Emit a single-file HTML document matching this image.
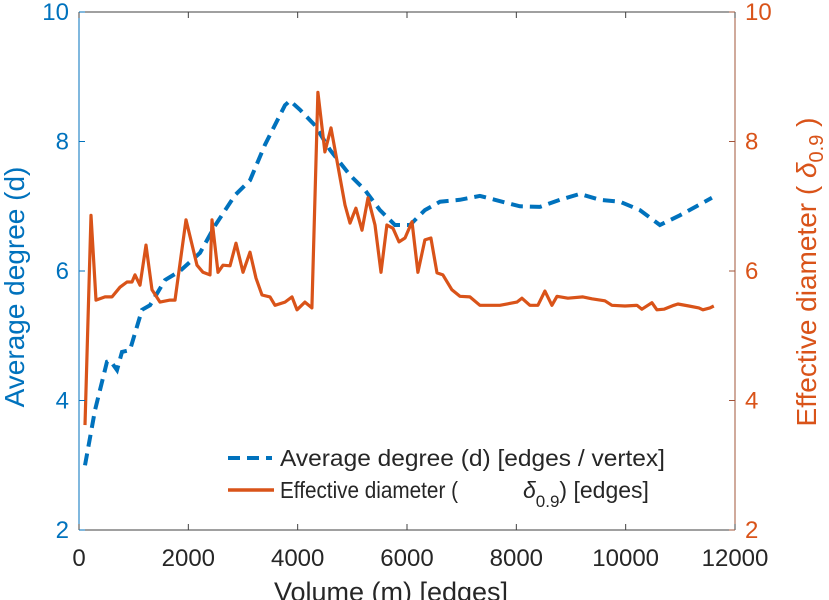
<!DOCTYPE html>
<html><head><meta charset="utf-8"><style>
html,body{margin:0;padding:0;background:#fff;}
svg{display:block;font-family:"Liberation Sans",sans-serif;}
</style></head><body>
<svg id="chart" width="829" height="600" viewBox="0 0 829 600" xmlns="http://www.w3.org/2000/svg">
<g id="series"></g>
<g id="axes"></g>
<g id="legend">
  <line x1="228" y1="458" x2="272" y2="458" stroke="#0072BD" stroke-width="4" stroke-dasharray="12,7"/>
  <text x="280" y="466" font-size="23" fill="#262626" textLength="385" lengthAdjust="spacingAndGlyphs">Average degree (d) [edges / vertex]</text>
  <line x1="228" y1="490" x2="274" y2="490" stroke="#D95319" stroke-width="3.5"/>
  <text x="280" y="498" font-size="23" fill="#262626" textLength="178" lengthAdjust="spacingAndGlyphs">Effective diameter (</text>
  <text x="523" y="498" font-size="23" fill="#262626"><tspan font-style="italic">δ</tspan><tspan font-size="17" dy="9">0.9</tspan><tspan dy="-9">) [edges]</tspan></text>
</g>
</svg>
<script>
const volumes = [110,293,512,567,695,786,933,1152,1299,1573,1847,2213,2487,2853,3128,3402,3768,3859,4042,4316,4591,4957,5231,5505,5780,6054,6328,6603,6968,7334,7608,8066,8432,8797,9163,9529,9895,10261,10626,10992,11577];
const avgDegree = [3.0,3.85,4.6,4.62,4.47,4.75,4.78,5.4,5.47,5.86,6.0,6.28,6.7,7.17,7.4,7.95,8.56,8.63,8.49,8.25,7.87,7.48,7.25,6.94,6.71,6.71,6.94,7.07,7.1,7.16,7.1,7.0,6.99,7.1,7.19,7.1,7.07,6.94,6.71,6.86,7.13];
const diamVolumes = [110,220,311,476,604,750,878,969,1024,1116,1225,1335,1481,1664,1756,1957,2158,2268,2396,2433,2542,2634,2762,2872,3000,3128,3237,3347,3493,3585,3768,3896,3987,4133,4261,4371,4499,4609,4718,4865,4957,5066,5176,5286,5414,5524,5633,5743,5853,5963,6091,6200,6328,6438,6548,6657,6822,6968,7151,7334,7700,8011,8102,8249,8395,8523,8651,8743,8944,9218,9383,9621,9749,9987,10206,10297,10480,10571,10699,10882,10955,11156,11339,11412,11540,11613];
const effDiameter = [3.62,6.86,5.55,5.60,5.60,5.75,5.83,5.83,5.94,5.78,6.40,5.71,5.52,5.55,5.55,6.79,6.09,5.98,5.94,6.79,5.98,6.09,6.08,6.43,5.98,6.29,5.89,5.63,5.60,5.47,5.52,5.60,5.40,5.52,5.43,8.76,7.84,8.21,7.71,7.02,6.74,6.97,6.63,7.13,6.71,5.98,6.71,6.66,6.45,6.51,6.76,5.98,6.48,6.51,5.97,5.94,5.71,5.61,5.60,5.47,5.47,5.52,5.58,5.47,5.47,5.69,5.47,5.61,5.58,5.60,5.57,5.54,5.47,5.46,5.47,5.41,5.51,5.40,5.41,5.47,5.49,5.46,5.43,5.40,5.43,5.46];
const xTicks = [0,2000,4000,6000,8000,10000,12000];
const yTicks = [2,4,6,8,10];

const X0=79, X1=735, Y0=530, Y1=12;
const xs = v => X0 + (v/12000)*(X1-X0);
const ys = v => Y0 - ((v-2)/8)*(Y0-Y1);
const NS="http://www.w3.org/2000/svg";
function mk(tag, parent){const e=document.createElementNS(NS,tag);parent.appendChild(e);return e;}
const axes=document.getElementById('axes'), series=document.getElementById('series');

let p = mk('path', series);
p.setAttribute('d', volumes.map((v,i)=>(i?'L':'M')+xs(v).toFixed(1)+','+ys(avgDegree[i]).toFixed(1)).join(''));
p.setAttribute('fill','none');p.setAttribute('stroke','#0072BD');p.setAttribute('stroke-width','4');p.setAttribute('stroke-dasharray','12,7');


let q = mk('path', series);
q.setAttribute('d', diamVolumes.map((v,i)=>(i?'L':'M')+xs(v).toFixed(1)+','+ys(effDiameter[i]).toFixed(1)).join(''));
q.setAttribute('fill','none');q.setAttribute('stroke','#D95319');q.setAttribute('stroke-width','3.2');q.setAttribute('stroke-linejoin','round');



function line(x1,y1,x2,y2,c,w,name){const l=mk('line',axes);l.setAttribute('x1',x1);l.setAttribute('y1',y1);l.setAttribute('x2',x2);l.setAttribute('y2',y2);l.setAttribute('stroke',c);l.setAttribute('stroke-width',w);


return l;}
line(X0,Y1,X1,Y1,'#404040',1,'top-axis-line');
line(X0,Y0,X1,Y0,'#404040',1,'x-axis-line');
line(X0,Y1,X0,Y0,'#0072BD',1,'left-y-axis-line');
line(X1,Y1,X1,Y0,'#A2543A',1,'right-y-axis-line');

function text(x,y,s,c,size,anchor,name){const t=mk('text',axes);t.setAttribute('x',x);t.setAttribute('y',y);t.setAttribute('fill',c);t.setAttribute('font-size',size);t.setAttribute('text-anchor',anchor);t.textContent=s;


return t;}
xTicks.forEach(v=>{
  const x=xs(v);
  line(x,Y0,x,Y0-6,'#404040',1,'x-tick');
  line(x,Y1,x,Y1+6,'#404040',1,'x-tick-top');
  text(x,566,String(v),'#262626',24,'middle','x-tick-label');
});
yTicks.forEach(v=>{
  const y=ys(v);
  line(X0,y,X0+6,y,'#0072BD',1,'left-y-tick');
  line(X1,y,X1-6,y,'#A2543A',1,'right-y-tick');
  text(X0-10,y+8,String(v),'#0072BD',24,'end','left-y-tick-label');
  text(X1+10,y+8,String(v),'#D95319',24,'start','right-y-tick-label');
});
text(391,601,'Volume (m) [edges]','#262626',27,'middle','x-axis-title');
const lt=text(0,0,'Average degree (d)','#0072BD',28,'middle','left-y-axis-title');
lt.setAttribute('transform','translate(24,287) rotate(-90)');
const rt=mk('text',axes);
rt.setAttribute('transform','translate(816,272) rotate(-90)');
rt.setAttribute('text-anchor','middle');rt.setAttribute('fill','#D95319');rt.setAttribute('font-size','28');


rt.innerHTML='Effective diameter (    <tspan font-style="italic">δ</tspan><tspan font-size="20" dy="7">0.9</tspan><tspan dy="-7"> )</tspan>';
</script>
</body></html>
